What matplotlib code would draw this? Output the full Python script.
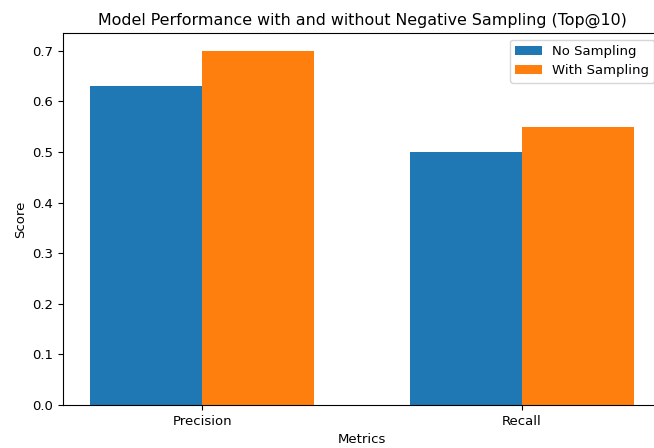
import matplotlib
matplotlib.use("Agg")
import matplotlib.pyplot as plt
import numpy as np

# данные
metrics = ["Precision", "Recall"]
no_sampling = [0.63, 0.50]
with_sampling = [0.70, 0.55]

# оригинал чуть уменьшен, поэтому шрифт немного мельче стандартного
plt.rcParams["font.size"] = 9.5

W, H = 654, 448
fig = plt.figure(figsize=(W / 100, H / 100), dpi=100)
# оси выходят за правый край картинки, как в обрезанном оригинале
ax = fig.add_axes([63 / W, 1 - 405 / H, (661 - 63) / W, (405 - 33) / H])

x = np.arange(len(metrics))
width = 0.35
ax.bar(x - width / 2, no_sampling, width, label="No Sampling")
ax.bar(x + width / 2, with_sampling, width, label="With Sampling")

ax.set_xticks(x)
ax.set_xticklabels(metrics)
ax.set_xlabel("Metrics")
ax.set_ylabel("Score")
ax.set_title("Model Performance with and without Negative Sampling (Top@10)", fontsize=11.4)
ax.legend(loc="upper right")

fig.savefig("out.png", dpi=100)
